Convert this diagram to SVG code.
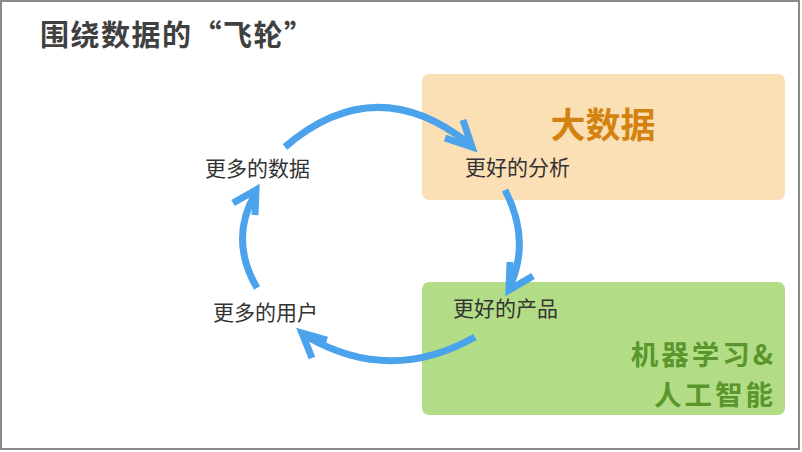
<svg xmlns="http://www.w3.org/2000/svg" width="802" height="452" viewBox="0 0 802 452">
<style>
text{font-family:"Noto Sans CJK SC","Noto Sans",sans-serif}
.lbl{font-size:21px;fill:#333333}
.ml{font-size:27.5px;font-weight:bold;fill:#5B962C;letter-spacing:3px}
.arc{fill:none;stroke:#4BA3EC;stroke-width:7}
.head{fill:none;stroke:#4BA3EC;stroke-width:7;stroke-linejoin:miter;stroke-linecap:butt}
</style>
<rect x="0" y="0" width="802" height="452" fill="#ffffff"/>
<rect x="1" y="1" width="798" height="448" fill="none" stroke="#8a8a8a" stroke-width="2"/>
<text x="40" y="46" font-size="29" font-weight="bold" fill="#404040" letter-spacing="1.5">围绕数据的“飞轮”</text>
<g id="bigdata">
<rect x="422" y="74" width="363" height="126" rx="7" fill="#FCE0B5"/>
<text x="603" y="138" font-size="35" font-weight="bold" fill="#D4820F" text-anchor="middle">大数据</text>
</g>
<g id="ml">
<rect x="422" y="282" width="363" height="133" rx="7" fill="#B2DD86"/>
<text class="ml" x="776" y="365" text-anchor="end">机器学习&amp;</text>
<text class="ml" x="776" y="405" text-anchor="end">人工智能</text>
</g>
<g id="n-analysis"><text class="lbl" x="465" y="175">更好的分析</text></g>
<g id="n-data"><text class="lbl" x="205" y="176">更多的数据</text></g>
<g id="n-users"><text class="lbl" x="213" y="320">更多的用户</text></g>
<g id="n-product"><text class="lbl" x="453" y="316">更好的产品</text></g>
<g id="connectors">
<path class="arc" d="M285,147 Q375,70 468,143"/>
<polyline class="head" points="463,120 472,147 445,138"/>
<path class="arc" d="M505,190 Q531,240 510,286"/>
<polyline class="head" points="510,262 509,290 533,276"/>
<path class="arc" d="M475,337 Q390,385 306,336"/>
<polyline class="head" points="327,340 302,333 312,358"/>
<path class="arc" d="M257,288 Q229,240 255,194"/>
<polyline class="head" points="233,203 256,190 255,215"/>
</g>
</svg>
